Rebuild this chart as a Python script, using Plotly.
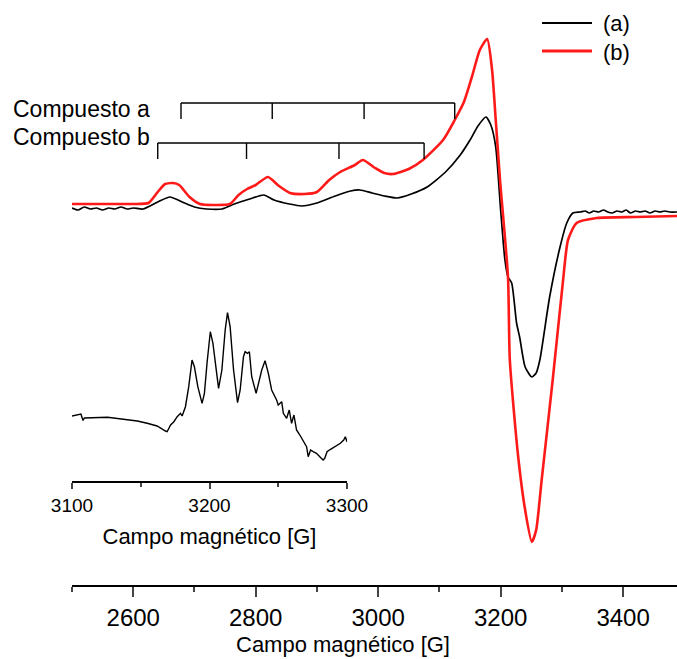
import plotly.graph_objects as go

# ---------------- data ----------------
# main spectrum, field in G, intensity in arbitrary units (baseline ~0)
field_a = [2500, 2510, 2520, 2530, 2540, 2550, 2560, 2570, 2580, 2590, 2600, 2616,
           2640, 2660, 2680, 2700, 2720, 2745, 2765, 2790, 2813, 2830, 2855, 2875,
           2900, 2930, 2955, 2970, 2990, 3010, 3031, 3054, 3080, 3110, 3134, 3150,
           3163, 3176, 3184, 3192, 3200, 3207, 3212, 3218, 3226, 3231, 3240, 3251,
           3258, 3264, 3280, 3297, 3308, 3318, 3330, 3338, 3345, 3352, 3360, 3368,
           3375, 3382, 3390, 3398, 3405, 3412, 3420, 3428, 3436, 3444, 3452, 3460,
           3468, 3476, 3488]
signal_a = [2, 0, 3, 1, 2, 0, 2, 1, 3, 1, 2, 1,
            8, 13, 8, 3, 1, 1, 6, 11, 15, 10, 6, 4,
            7, 14, 19, 20, 17, 14, 12, 16, 23, 38, 55, 70,
            84, 93, 85, 63, 0, -50, -67, -73, -113, -127, -157, -167,
            -163, -150, -87, -37, -13, -3, -2, -1, -3, -1, -2, 0,
            -2, -3, -1, -2, 0, -3, -1, -2, -1, -3, -1, -2,
            -1, -2, -2]

field_b = [2500, 2550, 2600, 2625, 2640, 2652, 2665, 2675, 2692, 2709, 2730, 2758,
           2772, 2786, 2800, 2820, 2838, 2856, 2880, 2900, 2920, 2938, 2962, 2975,
           2995, 3010, 3024, 3050, 3073, 3106, 3125, 3140, 3153, 3166, 3178, 3186,
           3192, 3199, 3212, 3215, 3228, 3240, 3251, 3258, 3267, 3285, 3302, 3310,
           3324, 3357, 3420, 3488]
signal_b = [6, 6, 6, 7, 18, 26, 27, 25, 13, 6, 5, 6,
            15, 21, 25, 33, 24, 17, 16, 18, 30, 38, 45, 50,
            42, 37, 36, 41, 50, 70, 90, 108, 133, 160, 171, 140,
            90, 30, -67, -150, -243, -300, -332, -320, -270, -170, -70, -30,
            -13, -8, -7, -6]

# hyperfine stick diagrams (line positions, G)
comp_a_lines = [2678, 2827, 2977, 3125]
comp_b_lines = [2640, 2785, 2936, 3075]

# inset spectrum (3100-3300 G)
field_in = [3100.0, 3106.5, 3108.0, 3109.0, 3125.8, 3137.8, 3147.5, 3154.7, 3161.9, 3168.0,
            3169.2, 3171.7, 3174.1, 3176.5, 3178.9, 3180.1, 3182.5, 3184.9, 3187.3, 3189.0,
            3191.5, 3194.6, 3196.3, 3198.2, 3200.6, 3202.5, 3204.5, 3206.6, 3209.0, 3211.4,
            3213.1, 3215.0, 3217.5, 3220.4, 3222.3, 3224.7, 3225.9, 3227.6, 3229.0, 3230.7,
            3233.9, 3235.6, 3238.0, 3240.4, 3242.8, 3245.2, 3246.4, 3248.8, 3250.0, 3252.5,
            3253.7, 3256.1, 3258.0, 3259.7, 3261.4, 3263.3, 3265.7, 3268.2, 3270.6, 3271.8,
            3273.5, 3275.4, 3277.8, 3280.2, 3282.6, 3283.8, 3285.5, 3288.0, 3291.6, 3295.2,
            3297.6, 3298.8, 3300.0, 3300.7]
signal_in = [65.0, 67.0, 60.5, 63.0, 63.7, 62.0, 60.0, 57.7, 55.0, 50.0,
             49.3, 56.0, 59.3, 64.3, 67.7, 65.0, 74.3, 94.3, 121.0, 114.3,
             94.3, 77.7, 87.7, 117.7, 149.3, 137.7, 114.3, 92.7, 111.0, 151.0,
             168.3, 154.3, 111.0, 78.3, 91.0, 124.3, 129.3, 127.7, 129.3, 104.3,
             87.7, 97.7, 111.0, 120.3, 107.7, 91.0, 87.7, 81.0, 76.0, 79.3,
             67.7, 62.7, 71.0, 57.7, 66.0, 51.0, 46.0, 39.3, 34.3, 24.3,
             31.0, 29.3, 27.7, 24.3, 21.0, 22.7, 29.3, 31.7, 34.3, 37.7,
             41.0, 44.3, 39.3, 42.7]

main_ticks = [2600, 2800, 3000, 3200, 3400]
inset_ticks = [3100, 3200, 3300]
series_names = ["(a)", "(b)"]
series_colors = ["black", "#ff1a1a"]
label_a = "Compuesto a"
label_b = "Compuesto b"
axis_title = "Campo magnético [G]"

# ---------------- figure ----------------
FONT = "Liberation Sans, Arial, sans-serif"
W, H = 677, 659
ML, MB = 72, 74
plot_h = H - MB


def stick(lines, top, bottom):
    xs, ys = [lines[0], lines[-1], None], [top, top, None]
    for g in lines:
        xs += [g, g, None]
        ys += [top, bottom, None]
    return xs, ys


def py(px):
    return (plot_h - px) / plot_h


def pxx(px):
    return (px - ML) / (W - ML)


fig = go.Figure()
fig.add_trace(go.Scatter(x=field_a, y=signal_a, mode="lines", name=series_names[0],
                         line=dict(color=series_colors[0], width=1.7, shape="spline", smoothing=0.6)))
fig.add_trace(go.Scatter(x=field_b, y=signal_b, mode="lines", name=series_names[1],
                         line=dict(color=series_colors[1], width=2.6, shape="spline", smoothing=0.6)))

sx, sy = stick(comp_a_lines, 107, 91)
fig.add_trace(go.Scatter(x=sx, y=sy, mode="lines", showlegend=False,
                         line=dict(color="black", width=1.4)))
sx, sy = stick(comp_b_lines, 67, 51)
fig.add_trace(go.Scatter(x=sx, y=sy, mode="lines", showlegend=False,
                         line=dict(color="black", width=1.4)))

fig.add_trace(go.Scatter(x=field_in, y=signal_in, mode="lines", showlegend=False,
                         xaxis="x2", yaxis="y2",
                         line=dict(color="black", width=1.4)))

fig.update_layout(
    width=W, height=H,
    margin=dict(l=ML, r=0, t=0, b=MB, autoexpand=False),
    paper_bgcolor="white", plot_bgcolor="white",
    font=dict(family=FONT, color="black"),
    showlegend=False,
    xaxis=dict(range=[2500, 3488], tickvals=main_ticks, ticks="outside", ticklen=10,
               tickwidth=2, showline=True, linewidth=2, linecolor="black",
               showgrid=False, zeroline=False, tickfont=dict(size=24), automargin=False,
               minor=dict(dtick=100, tick0=2500, ticks="outside", ticklen=5, tickwidth=2)),
    yaxis=dict(range=[-375, 210], visible=False),
    xaxis2=dict(domain=[0, pxx(347)], anchor="y2", range=[3100, 3300],
                tickvals=inset_ticks, ticks="outside", ticklen=6, tickwidth=1.5,
                showline=True, linewidth=1.5, linecolor="black", showgrid=False,
                zeroline=False, tickfont=dict(size=19), automargin=False,
                minor=dict(dtick=50, tick0=3100, ticks="outside", ticklen=4, tickwidth=1.5),
                title=dict(text=axis_title, font=dict(size=22), standoff=14)),
    yaxis2=dict(domain=[py(481), py(300)], anchor="x2", range=[0, 181], visible=False),
)

# main axis title (offset to the left of the axis centre, as in the original)
fig.add_annotation(x=pxx(343), y=py(644), xref="paper", yref="paper", text=axis_title,
                   showarrow=False, xanchor="center", yanchor="middle",
                   font=dict(size=22, family=FONT))

# legend (drawn as key lines + labels, like the original figure)
for i, (name, col, wid) in enumerate(zip(series_names, series_colors, [2.2, 3.0])):
    ypx = 23 + 28 * i
    fig.add_shape(type="line", xref="paper", yref="paper",
                  x0=pxx(542), x1=pxx(592), y0=py(ypx), y1=py(ypx),
                  line=dict(color=col, width=wid))
    fig.add_annotation(x=pxx(601), y=py(ypx + 1), xref="paper", yref="paper", text=name,
                       showarrow=False, xanchor="left", yanchor="middle",
                       font=dict(size=22, family=FONT))

fig.add_annotation(x=pxx(11), y=py(109), xref="paper", yref="paper", text=label_a,
                   showarrow=False, xanchor="left", yanchor="middle",
                   font=dict(size=23, family=FONT))
fig.add_annotation(x=pxx(11), y=py(137), xref="paper", yref="paper", text=label_b,
                   showarrow=False, xanchor="left", yanchor="middle",
                   font=dict(size=23, family=FONT))

fig.write_html("out.html")
